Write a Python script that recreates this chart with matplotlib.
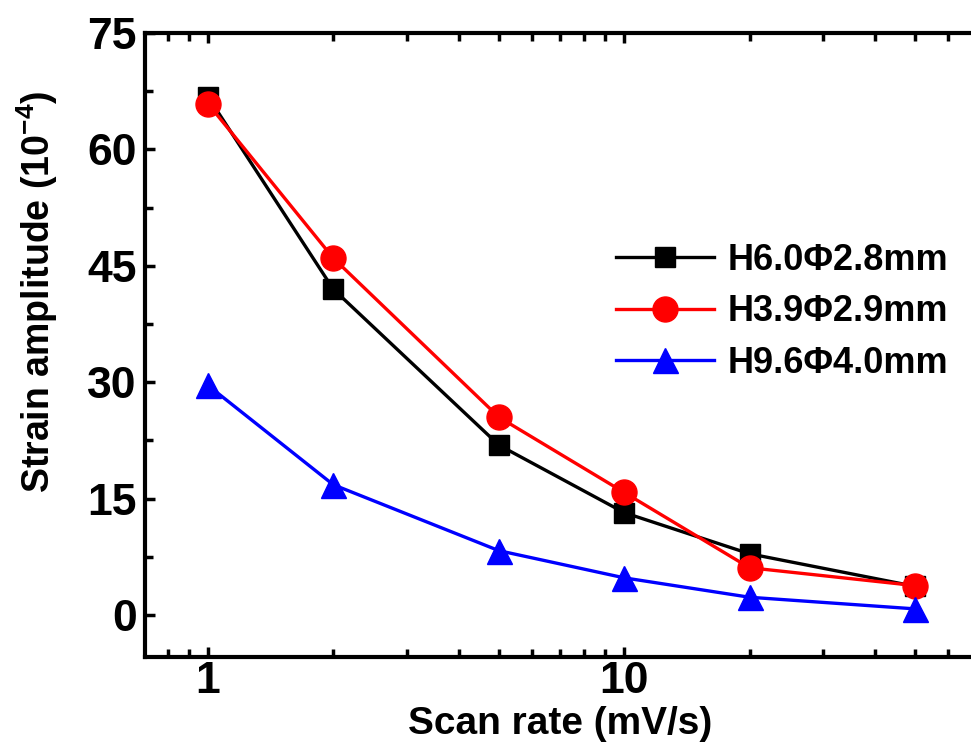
import matplotlib
matplotlib.use("Agg")
import matplotlib.pyplot as plt
from matplotlib.ticker import LogLocator, FixedLocator, NullFormatter

plt.rcParams['font.family'] = ['Liberation Sans', 'DejaVu Sans']
plt.rcParams['font.weight'] = 'bold'
plt.rcParams['mathtext.fontset'] = 'custom'
plt.rcParams['mathtext.rm'] = 'Liberation Sans:bold'
plt.rcParams['mathtext.bf'] = 'Liberation Sans:bold'
plt.rcParams['mathtext.default'] = 'bf'

# data
scan_rate = [1, 2, 5, 10, 20, 50]
h60 = [66.8, 42.0, 21.9, 13.2, 7.9, 3.7]
h39 = [65.9, 46.0, 25.5, 15.8, 6.1, 3.8]
h96 = [29.6, 16.8, 8.3, 4.8, 2.3, 0.8]
labels = ["H6.0Φ2.8mm", "H3.9Φ2.9mm", "H9.6Φ4.0mm"]
y_ticks = [0, 15, 30, 45, 60, 75]

W, H = 971, 747
fig = plt.figure(figsize=(W / 100, H / 100), dpi=100)
ax = fig.add_axes([145 / W, (H - 657) / H, 831 / W, 624 / H])

ax.plot(scan_rate, h60, color='black', lw=2.4, marker='s', ms=15, label=labels[0])
ax.plot(scan_rate, h39, color='red', lw=2.4, marker='o', ms=18, label=labels[1])
ax.plot(scan_rate, h96, color='blue', lw=2.4, marker='^', ms=18, label=labels[2])

ax.set_xscale('log')
ax.set_xlim(0.706, 70)
ax.set_ylim(-5.4, 75)

ax.yaxis.set_major_locator(FixedLocator(y_ticks))
ax.yaxis.set_minor_locator(FixedLocator([7.5, 22.5, 37.5, 52.5, 67.5]))
ax.xaxis.set_minor_locator(LogLocator(base=10, subs=range(2, 10)))
ax.xaxis.set_minor_formatter(NullFormatter())
ax.set_xticks([1, 10])
ax.set_xticklabels(["1", "10"])

ax.tick_params(axis='both', which='both', direction='in', width=2.5, labelsize=32)
ax.tick_params(axis='both', which='major', length=7, pad=6)
ax.tick_params(axis='both', which='minor', length=6)
ax.tick_params(axis='x', which='both', top=True)
ax.tick_params(axis='x', which='both', pad=3)
for lab in ax.get_xticklabels() + ax.get_yticklabels():
    lab.set_fontweight('bold')

for s in ax.spines.values():
    s.set_linewidth(3)

ax.set_xlabel("Scan rate (mV/s)", fontsize=28, fontweight='bold')
ax.xaxis.set_label_coords(0.5, -0.079)
ax.set_ylabel(r"Strain amplitude (10$^{-4}$)", fontsize=27, fontweight='bold')
ax.yaxis.set_label_coords(-0.102, 0.585)

ax.legend(loc='upper left', bbox_to_anchor=(598 / W, (H - 225) / H), bbox_transform=fig.transFigure,
          frameon=False, handlelength=2.7, handletextpad=0.4,
          labelspacing=0.45, borderpad=0, prop={'weight': 'bold', 'size': 26})

fig.savefig("out.png", dpi=100)
